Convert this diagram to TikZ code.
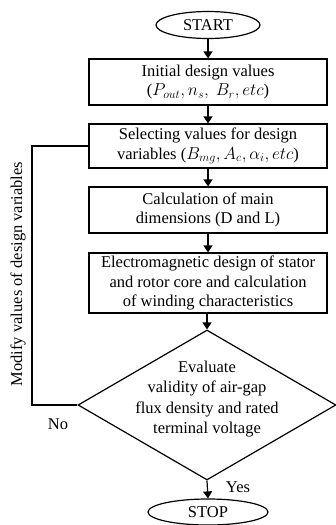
\documentclass[tikz,border=0pt]{standalone}
\usepackage{fontspec}
\setmainfont{Liberation Serif}
\usetikzlibrary{shapes.geometric,arrows.meta}
\begin{document}
\begin{tikzpicture}[x=1pt,y=-1pt,
  every node/.style={font=\fontsize{16.5}{19.5}\selectfont},
  proc/.style={draw,line width=1.2pt,rectangle,minimum width=238pt,align=center,inner sep=1pt},
  term/.style={draw,line width=1.2pt,ellipse,inner sep=0pt},
  conn/.style={line width=1.2pt,-{Triangle[width=9pt,length=7pt]}},
  plain/.style={line width=1.2pt}]
\useasboundingbox (0,0) rectangle (336,525);
\node[term,minimum width=104pt,minimum height=27pt] (start) at (208,25) {START};
\node[proc,minimum height=46pt] (b1) at (208,82) {Initial design values\\($P_{out}, n_s,\ B_r, etc$)};
\node[proc,minimum height=44pt] (b2) at (208,146) {Selecting values for design\\variables ($B_{mg}, A_c, \alpha_i, etc$)};
\node[proc,minimum height=46pt] (b3) at (208,210) {Calculation of main\\dimensions (D and L)};
\node[proc,minimum height=60pt] (b4) at (208,283) {Electromagnetic design of stator\\and rotor core and calculation\\of winding characteristics};
\node[diamond,draw,line width=1.2pt,minimum width=258pt,minimum height=150pt,inner sep=0pt] (dec) at (207,405) {};
\node[align=center,font=\fontsize{16.5}{20.5}\selectfont] (dectext) at (207,399) {Evaluate\\validity of air-gap\\flux density and rated\\terminal voltage};
\node[term,minimum width=120pt,minimum height=26pt] (stop) at (208,512) {STOP};
\coordinate (fbl) at (32,405);
\coordinate (fbt) at (32,146);
\draw[conn] (start) -- (start|-b1.north);
\draw[conn] (b1.south-|start) -- (b2.north-|start);
\draw[conn] (b2.south-|start) -- (b3.north-|start);
\draw[conn] (b3.south-|start) -- (b4.north-|start);
\draw[conn] (b4.south-|dec.north) -- (dec.north);
\draw[conn] (dec.south) -- (stop.north);
\draw[plain] (dec.west) -- (fbl) -- (fbt) -- (b2.west);
\node (no) at (58,424) {No};
\node (yes) at (238,487) {Yes};
\node[rotate=90] (mod) at (18,274) {Modify values of design variables};
\end{tikzpicture}
\end{document}
